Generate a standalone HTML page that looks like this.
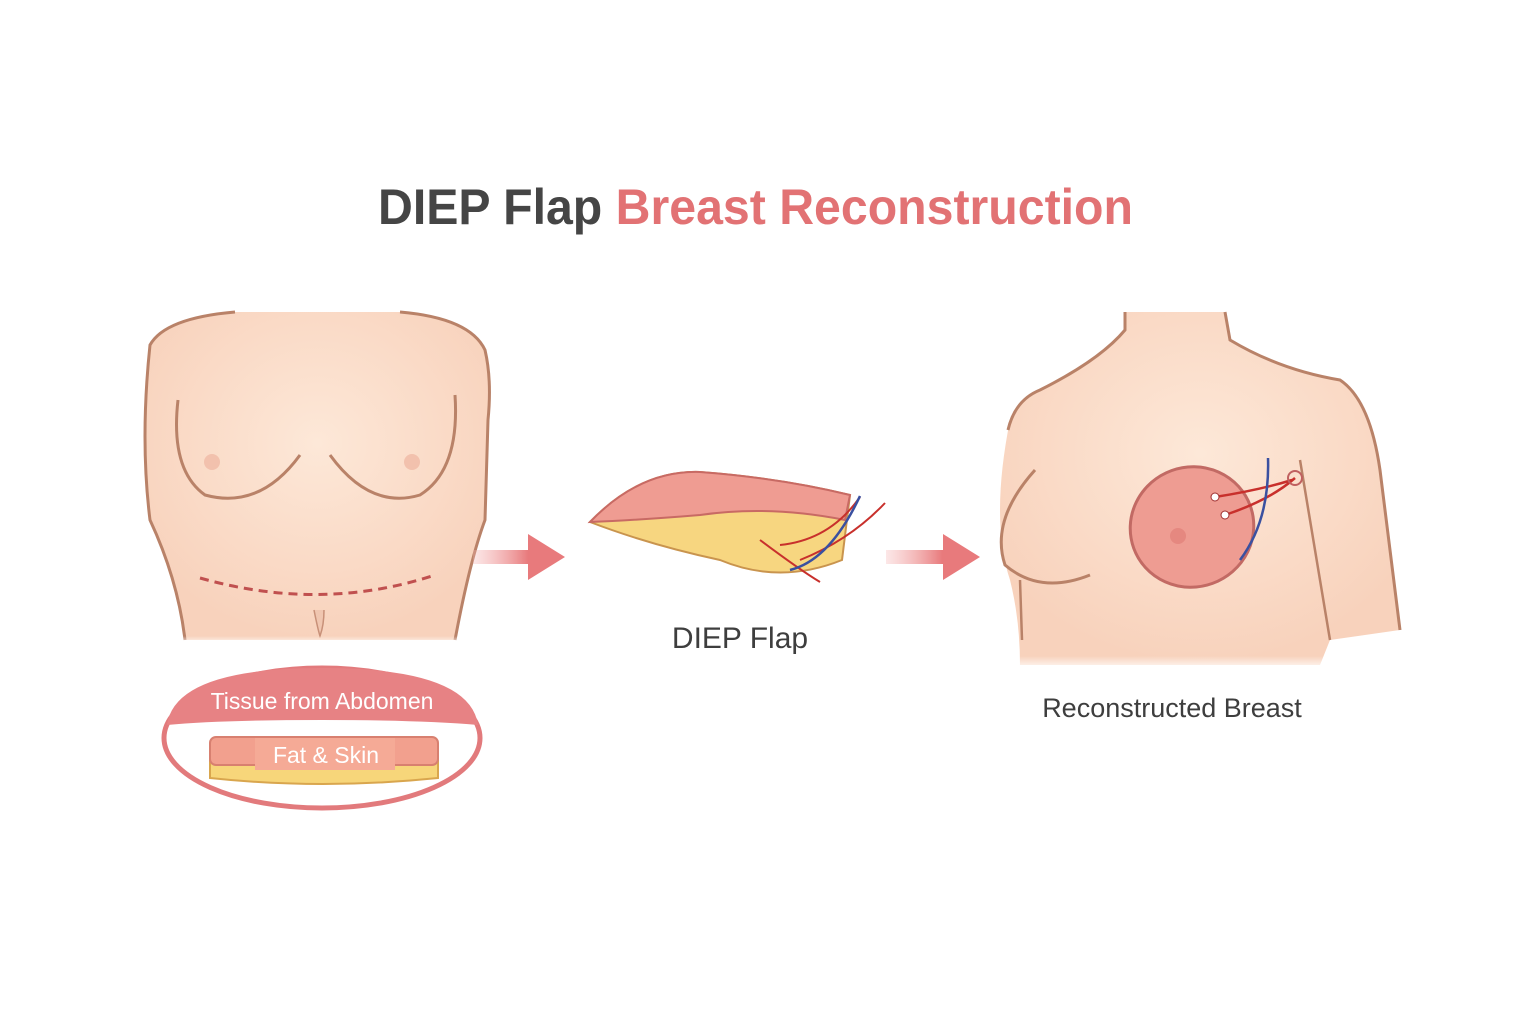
<!DOCTYPE html>
<html><head><meta charset="utf-8"><style>
html,body{margin:0;padding:0;background:#fff;}
svg{display:block;}
text{font-family:"Liberation Sans",sans-serif;}
</style></head><body>
<svg width="1536" height="1024" viewBox="0 0 1536 1024" xmlns="http://www.w3.org/2000/svg">
<defs>
<radialGradient id="skin" cx="50%" cy="40%" r="60%"><stop offset="0" stop-color="#fde8d8"/><stop offset="1" stop-color="#f8d2bc"/></radialGradient>
<linearGradient id="fadeB" x1="0" y1="0" x2="0" y2="1"><stop offset="0.8" stop-color="#fff" stop-opacity="0"/><stop offset="1" stop-color="#fff" stop-opacity="1"/></linearGradient>
<linearGradient id="arr" x1="0" x2="1"><stop offset="0" stop-color="#f4b0b0" stop-opacity="0.3"/><stop offset="0.6" stop-color="#e87a7c"/></linearGradient>
</defs>
<rect width="1536" height="1024" fill="#fff"/>
<text x="378" y="224" font-size="50" font-weight="bold" fill="#454545" textLength="755" lengthAdjust="spacingAndGlyphs">DIEP Flap <tspan fill="#e27274">Breast Reconstruction</tspan></text>

<!-- left torso -->
<path d="M150 345 Q165 318 235 312 L400 312 Q470 318 485 350 Q492 380 488 420 L485 520 Q470 560 455 640 L185 640 Q175 580 150 520 Q140 440 150 345Z" fill="url(#skin)"/>
<path d="M185 640 Q178 580 150 520 Q140 440 150 345 Q165 318 235 312" fill="none" stroke="#b98268" stroke-width="3"/>
<path d="M400 312 Q470 318 485 350 Q492 380 488 420 L485 520 Q470 560 455 640" fill="none" stroke="#b98268" stroke-width="3"/>
<path d="M178 400 Q170 470 205 495 Q260 510 300 455" fill="none" stroke="#b98268" stroke-width="3"/>
<path d="M330 455 Q370 510 420 495 Q460 470 455 395" fill="none" stroke="#b98268" stroke-width="3"/>
<circle cx="212" cy="462" r="8" fill="#f2c1ad"/><circle cx="412" cy="462" r="8" fill="#f2c1ad"/>
<path d="M200 578 Q320 612 432 576" fill="none" stroke="#c0504f" stroke-width="3" stroke-dasharray="9 6"/>
<path d="M314 610 Q318 630 320 636 Q324 625 324 610" fill="#f0c6b0" stroke="#c89078" stroke-width="1.5"/>
<rect x="140" y="600" width="360" height="45" fill="url(#fadeB)"/>

<!-- badge -->
<ellipse cx="322" cy="738" rx="158" ry="70" fill="#fff" stroke="#e27a7c" stroke-width="5"/>
<path d="M167 725 Q175 668 322 668 Q470 668 478 725 Q420 720 322 720 Q220 720 167 725Z" fill="#e78284"/>
<text x="322" y="709" font-size="23" fill="#fff" text-anchor="middle" font-family="Liberation Serif,serif">Tissue from Abdomen</text>
<path d="M210 750 L438 750 L438 778 Q322 790 210 778Z" fill="#f7d67a" stroke="#d9a64e" stroke-width="2"/>
<rect x="210" y="737" width="228" height="28" rx="6" fill="#f2a08e" stroke="#d88070" stroke-width="2"/>
<rect x="255" y="738" width="140" height="32" fill="#f5aa96"/>
<text x="326" y="763" font-size="23" fill="#fff" text-anchor="middle" font-family="Liberation Serif,serif">Fat &amp; Skin</text>

<!-- arrows -->
<path d="M473 550 L528 550 L528 534 L565 557 L528 580 L528 564 L473 564Z" fill="url(#arr)"/>
<path d="M886 550 L943 550 L943 534 L980 557 L943 580 L943 564 L886 564Z" fill="url(#arr)"/>

<!-- flap -->
<path d="M590 522 Q640 470 700 472 Q780 478 850 495 L842 560 Q780 585 720 560 Q650 545 590 522Z" fill="#f7d680" stroke="#c9944e" stroke-width="2"/>
<path d="M590 522 Q640 470 700 472 Q780 478 850 495 L845 520 Q770 505 700 515 Q640 520 590 522Z" fill="#ef9c92" stroke="#c86a64" stroke-width="2"/>
<path d="M760 540 Q800 570 820 582 M780 545 Q830 540 860 497 M800 560 Q850 540 885 503" fill="none" stroke="#c8302c" stroke-width="2"/>
<path d="M790 570 Q830 560 860 496" fill="none" stroke="#3a50a0" stroke-width="2.5"/>
<text x="740" y="648" font-size="30" fill="#3e3e3e" text-anchor="middle">DIEP Flap</text>

<!-- right torso -->
<path d="M1040 390 Q1100 360 1125 330 L1125 312 L1225 312 L1230 340 Q1280 370 1340 380 Q1370 400 1380 470 L1400 630 L1330 640 L1320 665 L1020 665 Q1020 620 1010 580 Q990 520 1010 420 Q1020 395 1040 390Z" fill="url(#skin)"/>
<path d="M1125 312 L1125 330 Q1100 360 1040 390 Q1015 400 1008 430 M1225 312 L1230 340 Q1280 370 1340 380 Q1370 400 1380 470 L1400 630" fill="none" stroke="#b98268" stroke-width="3"/>
<path d="M1035 470 Q990 520 1005 565 Q1040 595 1090 575" fill="none" stroke="#b98268" stroke-width="3"/>
<path d="M1300 460 L1330 640 M1020 580 L1022 640" fill="none" stroke="#b98268" stroke-width="2.5"/>
<ellipse cx="1192" cy="527" rx="62" ry="60" transform="rotate(-20 1192 527)" fill="#ee9c92" stroke="#c26a64" stroke-width="3"/>
<circle cx="1178" cy="536" r="8" fill="#e58880"/>
<path d="M1215 497 Q1260 490 1292 480 M1225 515 Q1270 500 1295 478" fill="none" stroke="#c8302c" stroke-width="2.5"/>
<path d="M1240 560 Q1270 520 1268 458" fill="none" stroke="#3a50a0" stroke-width="2.5"/>
<circle cx="1215" cy="497" r="4" fill="#fff" stroke="#a03030"/><circle cx="1225" cy="515" r="4" fill="#fff" stroke="#a03030"/>
<circle cx="1295" cy="478" r="7" fill="none" stroke="#c06060" stroke-width="2"/>
<rect x="990" y="600" width="420" height="70" fill="url(#fadeB)"/>
<text x="1172" y="717" font-size="27" fill="#3e3e3e" text-anchor="middle">Reconstructed Breast</text>
</svg>
</body></html>
